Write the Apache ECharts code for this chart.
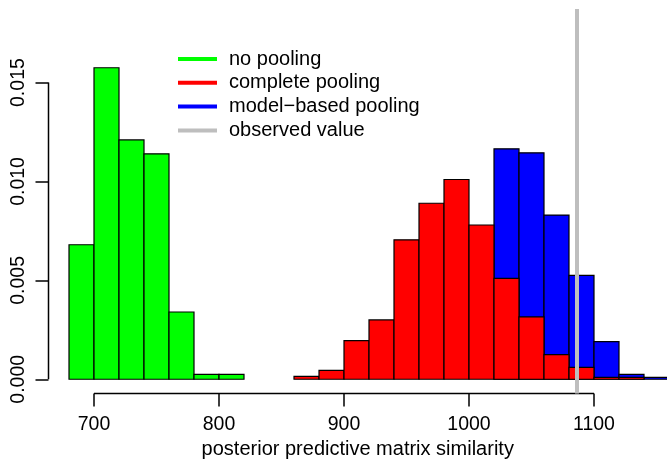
<!DOCTYPE html>
<html>
<head>
<meta charset="utf-8">
<script src="https://cdn.jsdelivr.net/npm/echarts@6/dist/echarts.min.js"></script>
<style>html,body{margin:0;padding:0;background:#fff}#c{width:667px;height:459px}</style>
</head>
<body>
<div id="c"></div>
<script>
// ---- data ----
var binWidth = 20;
var noPoolingStart = 680;
var noPoolingDensity = [0.0068, 0.01575, 0.0121, 0.0114, 0.0034, 0.00025, 0.00025];
var completePoolingStart = 860;
var completePoolingDensity = [0.00015, 0.00045, 0.00195, 0.003, 0.00705, 0.0089, 0.0101, 0.0078, 0.0051, 0.00315, 0.00125, 0.0006, 0.0001, 0.0001];
var modelPoolingStart = 1020;
var modelPoolingDensity = [0.01165, 0.01145, 0.0083, 0.00525, 0.0019, 0.00025, 0.0001];
var observedValue = 1086.4;
var xTicks = [700, 800, 900, 1000, 1100];
var yTicks = [0, 0.005, 0.010, 0.015];
var seriesNames = ['no pooling', 'complete pooling', 'model\u2212based pooling', 'observed value'];

// ---- build ----
var xMin = 663.6, xMax = 1158.4;
var yMin = -0.00072, yMax = 0.01872;
var FONT = 'Liberation Sans';
var FS = 19.5, FS2 = 20;

function bins(start, dens) {
  return dens.map(function (d, i) {
    return [start + i * binWidth, start + (i + 1) * binWidth, d];
  });
}
function histSeries(name, start, dens, color) {
  return {
    type: 'custom', name: name, clip: true,
    itemStyle: { color: color },
    encode: { x: [0, 1], y: 2 },
    data: bins(start, dens),
    renderItem: function (params, api) {
      var p0 = api.coord([api.value(0), api.value(2)]);
      var p1 = api.coord([api.value(1), 0]);
      return {
        type: 'rect',
        shape: { x: p0[0], y: p0[1], width: p1[0] - p0[0], height: p1[1] - p0[1] },
        style: { fill: color, stroke: '#000', lineWidth: 1.2 }
      };
    }
  };
}
// axis lines in R style: only between the first and last tick
var axisSegments = [
  [xTicks[0], yMin, xTicks[xTicks.length - 1], yMin],
  [xMin, yTicks[0], xMin, yTicks[yTicks.length - 1]]
];

var chart = echarts.init(document.getElementById('c'), null, { renderer: 'canvas' });
chart.setOption({
  animation: false,
  backgroundColor: '#fff',
  textStyle: { fontFamily: FONT },
  grid: { left: 48.5, right: 0, top: 9, bottom: 65.5, outerBoundsMode: 'none' },
  legend: {
    data: seriesNames,
    orient: 'vertical',
    left: 173, top: 44,
    icon: 'rect',
    itemWidth: 39, itemHeight: 4,
    itemGap: 3.8,
    itemStyle: { borderWidth: 0 },
    textStyle: { fontFamily: FONT, fontSize: FS2, color: '#000', lineHeight: 20, padding: [0, 0, 0, 7] },
    selectedMode: false
  },
  xAxis: {
    type: 'value', min: xMin, max: xMax,
    axisLine: { show: false, onZero: false },
    splitLine: { show: false },
    axisTick: { show: true, length: 13, customValues: xTicks, lineStyle: { color: '#000', width: 1.5 } },
    axisLabel: { customValues: xTicks, margin: 21, color: '#000', fontFamily: FONT, fontSize: FS,
      formatter: function (v) { return String(v); } },
    name: 'posterior predictive matrix similarity',
    nameLocation: 'middle', nameGap: 45,
    nameTextStyle: { fontFamily: FONT, fontSize: FS2, color: '#000' }
  },
  yAxis: {
    type: 'value', min: yMin, max: yMax,
    axisLine: { show: false, onZero: false },
    splitLine: { show: false },
    axisTick: { show: true, length: 13, customValues: yTicks, lineStyle: { color: '#000', width: 1.5 } },
    axisLabel: {
      customValues: yTicks, rotate: 90, margin: 20, color: '#000', fontFamily: FONT, fontSize: FS,
      formatter: function (v) { return v.toFixed(3); }
    }
  },
  series: [
    histSeries(seriesNames[0], noPoolingStart, noPoolingDensity, '#00FF00'),
    histSeries(seriesNames[2], modelPoolingStart, modelPoolingDensity, '#0000FF'),
    histSeries(seriesNames[1], completePoolingStart, completePoolingDensity, '#FF0000'),
    {
      type: 'line', name: seriesNames[3], clip: false, showSymbol: false, symbol: 'none',
      itemStyle: { color: '#BEBEBE' },
      lineStyle: { color: '#BEBEBE', width: 4 },
      data: [[observedValue, yMin], [observedValue, yMax]]
    },
    {
      type: 'custom', name: '_axes', clip: false, silent: true,
      encode: { x: [0, 2], y: [1, 3] },
      data: axisSegments,
      renderItem: function (params, api) {
        var a = api.coord([api.value(0), api.value(1)]);
        var b = api.coord([api.value(2), api.value(3)]);
        return {
          type: 'line',
          shape: { x1: a[0], y1: a[1], x2: b[0], y2: b[1] },
          style: { stroke: '#000', lineWidth: 1.5 }
        };
      }
    }
  ]
});
</script>
</body>
</html>
